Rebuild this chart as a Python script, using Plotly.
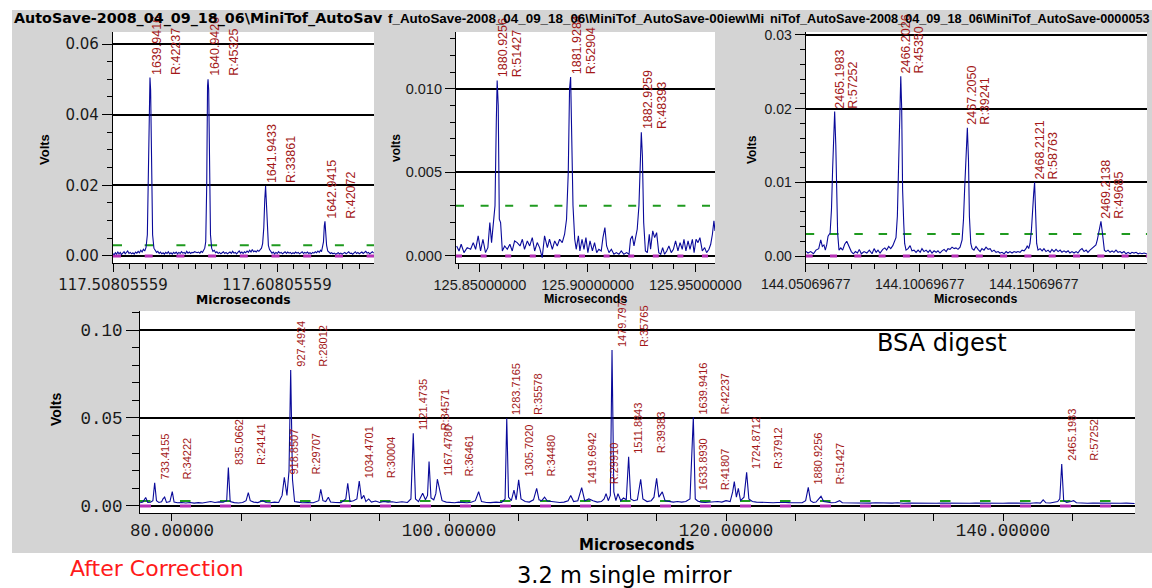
import plotly.graph_objects as go

# ---------------- data ----------------
# Panel 1: zoom around 1640 Da
P1_T = [117.5081, 117.5088, 117.5095, 117.5102, 117.5110, 117.5117, 117.5125, 117.5132, 117.5140, 117.5148,
        117.5155, 117.5163, 117.5170, 117.5178, 117.5186, 117.5194, 117.5202, 117.5210, 117.5218, 117.5226,
        117.5234, 117.5242, 117.5250, 117.5258, 117.5266, 117.5274, 117.5282, 117.5290, 117.5297, 117.5303,
        117.5306, 117.5310, 117.5316, 117.5322, 117.5330, 117.5338, 117.5346, 117.5354, 117.5362, 117.5370,
        117.5378, 117.5386, 117.5394, 117.5402, 117.5410, 117.5418, 117.5426, 117.5434, 117.5442, 117.5450,
        117.5458, 117.5466, 117.5474, 117.5482, 117.5490, 117.5498, 117.5506, 117.5514, 117.5522, 117.5530,
        117.5538, 117.5546, 117.5554, 117.5562, 117.5570, 117.5578, 117.5586, 117.5594, 117.5602, 117.5610,
        117.5618, 117.5626, 117.5634, 117.5640, 117.5646, 117.5652, 117.5657, 117.5660, 117.5664, 117.5669,
        117.5675, 117.5682, 117.5690, 117.5698, 117.5706, 117.5714, 117.5722, 117.5730, 117.5738, 117.5746,
        117.5754, 117.5762, 117.5770, 117.5778, 117.5786, 117.5794, 117.5802, 117.5810, 117.5818, 117.5826,
        117.5834, 117.5842, 117.5850, 117.5858, 117.5866, 117.5874, 117.5882, 117.5890, 117.5898, 117.5906,
        117.5914, 117.5922, 117.5930, 117.5938, 117.5946, 117.5954, 117.5962, 117.5970, 117.5978, 117.5986,
        117.5993, 117.6000, 117.6006, 117.6011, 117.6016, 117.6022, 117.6028, 117.6035, 117.6042, 117.6050,
        117.6058, 117.6066, 117.6074, 117.6082, 117.6090, 117.6098, 117.6106, 117.6114, 117.6122, 117.6130,
        117.6138, 117.6146, 117.6154, 117.6162, 117.6170, 117.6178, 117.6186, 117.6194, 117.6202, 117.6210,
        117.6218, 117.6226, 117.6234, 117.6242, 117.6250, 117.6258, 117.6266, 117.6274, 117.6282, 117.6290,
        117.6298, 117.6306, 117.6314, 117.6322, 117.6330, 117.6338, 117.6346, 117.6352, 117.6358, 117.6364,
        117.6369, 117.6373, 117.6377, 117.6383, 117.6390, 117.6398, 117.6406, 117.6414, 117.6422, 117.6430,
        117.6438, 117.6446, 117.6454, 117.6462, 117.6470, 117.6478, 117.6486, 117.6494, 117.6502, 117.6510,
        117.6518, 117.6526, 117.6534, 117.6542, 117.6550, 117.6558, 117.6566, 117.6574, 117.6582, 117.6590,
        117.6598, 117.6606, 117.6614, 117.6622, 117.6630, 117.6638, 117.6646, 117.6654, 117.6662, 117.6670]
P1_V = [0.0006, 0.0004, 0.0009, 0.0005, 0.0011, 0.0006, 0.0010, 0.0004, 0.0008, 0.0012,
        0.0006, 0.0009, 0.0014, 0.0007, 0.0010, 0.0006, 0.0009, 0.0005, 0.0011, 0.0008,
        0.0013, 0.0009, 0.0016, 0.0011, 0.0019, 0.0014, 0.0024, 0.0060, 0.0250, 0.0480,
        0.0505, 0.0470, 0.0220, 0.0060, 0.0022, 0.0014, 0.0010, 0.0013, 0.0007, 0.0011,
        0.0006, 0.0009, 0.0005, 0.0010, 0.0007, 0.0012, 0.0006, 0.0009, 0.0005, 0.0010,
        0.0007, 0.0011, 0.0006, 0.0010, 0.0007, 0.0012, 0.0008, 0.0010, 0.0006, 0.0013,
        0.0008, 0.0011, 0.0007, 0.0010, 0.0009, 0.0012, 0.0010, 0.0009, 0.0011, 0.0008,
        0.0013, 0.0010, 0.0017, 0.0022, 0.0040, 0.0200, 0.0480, 0.0500, 0.0470, 0.0250,
        0.0060, 0.0022, 0.0013, 0.0016, 0.0009, 0.0012, 0.0007, 0.0010, 0.0006, 0.0009,
        0.0012, 0.0007, 0.0010, 0.0006, 0.0008, 0.0011, 0.0007, 0.0013, 0.0008, 0.0010,
        0.0006, 0.0009, 0.0014, 0.0008, 0.0011, 0.0007, 0.0012, 0.0009, 0.0014, 0.0010,
        0.0016, 0.0011, 0.0018, 0.0012, 0.0014, 0.0011, 0.0016, 0.0013, 0.0018, 0.0022,
        0.0035, 0.0080, 0.0160, 0.0198, 0.0150, 0.0070, 0.0030, 0.0018, 0.0012, 0.0008,
        0.0011, 0.0006, 0.0010, 0.0007, 0.0012, 0.0008, 0.0010, 0.0006, 0.0009, 0.0012,
        0.0007, 0.0011, 0.0008, 0.0010, 0.0006, 0.0009, 0.0007, 0.0011, 0.0008, 0.0010,
        0.0006, 0.0009, 0.0012, 0.0007, 0.0010, 0.0008, 0.0011, 0.0007, 0.0009, 0.0006,
        0.0010, 0.0008, 0.0012, 0.0009, 0.0014, 0.0010, 0.0016, 0.0012, 0.0022, 0.0040,
        0.0085, 0.0098, 0.0070, 0.0030, 0.0014, 0.0010, 0.0007, 0.0009, 0.0006, 0.0008,
        0.0005, 0.0007, 0.0009, 0.0006, 0.0008, 0.0005, 0.0007, 0.0010, 0.0006, 0.0009,
        0.0012, 0.0007, 0.0008, 0.0005, 0.0009, 0.0012, 0.0007, 0.0010, 0.0006, 0.0008,
        0.0011, 0.0007, 0.0009, 0.0013, 0.0008, 0.0010, 0.0006, 0.0009, 0.0012, 0.0008]
P1_MASS = ["1639.9416", "1640.9420", "1641.9433", "1642.9415"]
P1_RES = ["R:42237", "R:45325", "R:33861", "R:42072"]
P1_PEAKS = [117.5306, 117.5660, 117.6011, 117.6373]

# Panel 2: zoom around 1881 Da
P2_T = [125.8392, 125.8403, 125.8413, 125.8426, 125.8441, 125.8457, 125.8469, 125.8480, 125.8492, 125.8503,
        125.8514, 125.8526, 125.8537, 125.8546, 125.8554, 125.8562, 125.8570, 125.8576, 125.8580, 125.8585,
        125.8590, 125.8596, 125.8604, 125.8615, 125.8627, 125.8639, 125.8650, 125.8661, 125.8673, 125.8686,
        125.8697, 125.8707, 125.8720, 125.8731, 125.8743, 125.8754, 125.8766, 125.8777, 125.8789, 125.8800,
        125.8813, 125.8823, 125.8836, 125.8847, 125.8859, 125.8870, 125.8882, 125.8893, 125.8902, 125.8910,
        125.8916, 125.8921, 125.8926, 125.8932, 125.8940, 125.8947, 125.8957, 125.8964, 125.8974, 125.8983,
        125.8992, 125.9001, 125.9011, 125.9022, 125.9032, 125.9042, 125.9052, 125.9063, 125.9071, 125.9080,
        125.9088, 125.9099, 125.9110, 125.9122, 125.9133, 125.9145, 125.9156, 125.9168, 125.9181, 125.9192,
        125.9199, 125.9207, 125.9215, 125.9223, 125.9230, 125.9238, 125.9244, 125.9249, 125.9254, 125.9260,
        125.9268, 125.9277, 125.9286, 125.9292, 125.9302, 125.9311, 125.9320, 125.9330, 125.9339, 125.9348,
        125.9357, 125.9367, 125.9377, 125.9388, 125.9398, 125.9408, 125.9419, 125.9429, 125.9439, 125.9447,
        125.9456, 125.9466, 125.9475, 125.9486, 125.9494, 125.9503, 125.9512, 125.9521, 125.9532, 125.9543,
        125.9552, 125.9563, 125.9571, 125.9579, 125.9586, 125.9591]
P2_V = [0.0006, 0.0003, 0.0007, 0.0002, 0.0005, 0.0004, 0.0008, 0.0004, 0.0012, 0.0003,
        0.0010, 0.0002, 0.0005, 0.0020, 0.0008, 0.0019, 0.0030, 0.0080, 0.0105, 0.0090,
        0.0022, 0.0020, 0.0003, 0.0006, 0.0004, 0.0007, 0.0003, 0.0009, 0.0008, 0.0006,
        0.0010, 0.0004, 0.0009, 0.0006, 0.0011, 0.0003, 0.0008, 0.0005, -0.0001, 0.0012,
        0.0005, 0.0010, 0.0004, 0.0009, 0.0006, 0.0010, 0.0008, 0.0013, 0.0022, 0.0050,
        0.0100, 0.0107, 0.0080, 0.0030, 0.0010, 0.0004, 0.0012, 0.0003, 0.0010, 0.0004,
        0.0011, 0.0002, 0.0009, 0.0003, 0.0008, 0.0002, 0.0004, 0.0003, 0.0011, 0.0017,
        0.0006, 0.0002, 0.0004, 0.0001, 0.0002, 0.0001, 0.0003, 0.0001, 0.0002, 0.0001,
        0.0010, 0.0012, 0.0006, 0.0012, 0.0016, 0.0030, 0.0060, 0.0074, 0.0060, 0.0020,
        0.0003, 0.0002, 0.0013, 0.0004, 0.0015, 0.0011, 0.0014, 0.0002, 0.0001, 0.0005,
        0.0001, 0.0003, 0.0006, 0.0002, 0.0004, 0.0009, 0.0003, 0.0008, 0.0004, 0.0010,
        0.0003, 0.0009, 0.0004, 0.0010, 0.0002, 0.0010, 0.0008, 0.0011, 0.0003, 0.0005,
        0.0002, 0.0004, 0.0007, 0.0013, 0.0021, 0.0015]
P2_MASS = ["1880.9256", "1881.9284", "1882.9259"]
P2_RES = ["R:51427", "R:52904", "R:48393"]
P2_PEAKS = [125.8580, 125.8921, 125.9249]

# Panel 3: zoom around 2466 Da
P3_T = [144.0505, 144.0517, 144.0529, 144.0541, 144.0552, 144.0564, 144.0573, 144.0580, 144.0587, 144.0593,
        144.0599, 144.0605, 144.0614, 144.0620, 144.0625, 144.0630, 144.0634, 144.0639, 144.0643, 144.0647,
        144.0653, 144.0661, 144.0669, 144.0678, 144.0687, 144.0693, 144.0699, 144.0707, 144.0716, 144.0725,
        144.0734, 144.0742, 144.0751, 144.0763, 144.0775, 144.0786, 144.0798, 144.0807, 144.0816, 144.0824,
        144.0833, 144.0845, 144.0854, 144.0862, 144.0871, 144.0880, 144.0889, 144.0897, 144.0903, 144.0909,
        144.0913, 144.0919, 144.0924, 144.0928, 144.0932, 144.0937, 144.0941, 144.0947, 144.0956, 144.0965,
        144.0973, 144.0982, 144.0991, 144.1000, 144.1009, 144.1017, 144.1026, 144.1035, 144.1044, 144.1052,
        144.1061, 144.1070, 144.1079, 144.1087, 144.1096, 144.1105, 144.1114, 144.1123, 144.1131, 144.1140,
        144.1149, 144.1158, 144.1166, 144.1175, 144.1184, 144.1193, 144.1199, 144.1204, 144.1212, 144.1216,
        144.1221, 144.1225, 144.1231, 144.1237, 144.1245, 144.1254, 144.1263, 144.1272, 144.1280, 144.1289,
        144.1298, 144.1307, 144.1316, 144.1324, 144.1333, 144.1342, 144.1351, 144.1359, 144.1368, 144.1377,
        144.1386, 144.1394, 144.1403, 144.1412, 144.1421, 144.1430, 144.1438, 144.1447, 144.1456, 144.1465,
        144.1473, 144.1479, 144.1485, 144.1491, 144.1497, 144.1503, 144.1507, 144.1511, 144.1516, 144.1520,
        144.1526, 144.1535, 144.1544, 144.1552, 144.1561, 144.1570, 144.1579, 144.1587, 144.1596, 144.1605,
        144.1614, 144.1623, 144.1631, 144.1640, 144.1649, 144.1658, 144.1666, 144.1675, 144.1684, 144.1693,
        144.1701, 144.1710, 144.1719, 144.1728, 144.1737, 144.1745, 144.1754, 144.1763, 144.1772, 144.1780,
        144.1786, 144.1792, 144.1798, 144.1802, 144.1807, 144.1811, 144.1817, 144.1824, 144.1833, 144.1842,
        144.1851, 144.1859, 144.1868, 144.1877, 144.1886, 144.1894, 144.1903, 144.1912, 144.1921, 144.1930,
        144.1938, 144.1947, 144.1956, 144.1965, 144.1973, 144.1982, 144.1991, 144.2003]
P3_V = [0.0007, 0.0004, 0.0006, 0.0003, 0.0008, 0.0010, 0.0022, 0.0013, 0.0015, 0.0008,
        0.0015, 0.0027, 0.0031, 0.0063, 0.0117, 0.0150, 0.0196, 0.0150, 0.0060, 0.0031,
        0.0008, 0.0011, 0.0008, 0.0016, 0.0020, 0.0015, 0.0010, 0.0006, 0.0003, 0.0006,
        0.0004, 0.0009, 0.0003, 0.0006, 0.0004, 0.0008, 0.0003, 0.0010, 0.0005, 0.0008,
        0.0004, 0.0009, 0.0011, 0.0008, 0.0013, 0.0010, 0.0014, 0.0022, 0.0025, 0.0054,
        0.0099, 0.0190, 0.0244, 0.0200, 0.0090, 0.0044, 0.0017, 0.0008, 0.0010, 0.0014,
        0.0007, 0.0008, 0.0005, 0.0008, 0.0005, 0.0010, 0.0006, 0.0008, 0.0005, 0.0008,
        0.0004, 0.0007, 0.0005, 0.0007, 0.0004, 0.0007, 0.0009, 0.0006, 0.0010, 0.0009,
        0.0012, 0.0010, 0.0011, 0.0009, 0.0012, 0.0022, 0.0049, 0.0090, 0.0140, 0.0174,
        0.0130, 0.0054, 0.0017, 0.0010, 0.0008, 0.0013, 0.0009, 0.0006, 0.0010, 0.0008,
        0.0012, 0.0009, 0.0010, 0.0006, 0.0008, 0.0005, 0.0006, 0.0004, 0.0005, 0.0003,
        0.0006, 0.0004, 0.0006, 0.0004, 0.0006, 0.0005, 0.0006, 0.0005, 0.0008, 0.0007,
        0.0010, 0.0014, 0.0010, 0.0017, 0.0035, 0.0076, 0.0085, 0.0100, 0.0054, 0.0017,
        0.0008, 0.0010, 0.0007, 0.0010, 0.0006, 0.0008, 0.0005, 0.0009, 0.0006, 0.0009,
        0.0006, 0.0008, 0.0005, 0.0007, 0.0005, 0.0007, 0.0004, 0.0006, 0.0004, 0.0006,
        0.0004, 0.0008, 0.0010, 0.0006, 0.0008, 0.0005, 0.0008, 0.0010, 0.0013, 0.0015,
        0.0022, 0.0033, 0.0045, 0.0047, 0.0035, 0.0022, 0.0008, 0.0006, 0.0008, 0.0005,
        0.0007, 0.0005, 0.0008, 0.0005, 0.0006, 0.0004, 0.0006, 0.0003, 0.0005, 0.0003,
        0.0005, 0.0004, 0.0005, 0.0003, 0.0004, 0.0003, 0.0004, 0.0003]
P3_MASS = ["2465.1983", "2466.2026", "2467.2050", "2468.2121", "2469.2138"]
P3_RES = ["R:57252", "R:45350", "R:39241", "R:58763", "R:49685"]
P3_PEAKS = [144.0634, 144.0924, 144.1216, 144.1511, 144.1802]

# Bottom panel: full BSA digest spectrum
B_T = [77.70, 77.90, 78.10, 78.25, 78.45, 78.62, 78.75, 78.88, 79.05, 79.25,
       79.35, 79.47, 79.60, 79.85, 80.02, 80.15, 80.40, 80.70, 81.00, 81.30,
       81.60, 81.90, 82.20, 82.50, 82.80, 83.10, 83.40, 83.70, 83.95, 84.07,
       84.20, 84.50, 84.80, 85.10, 85.35, 85.51, 85.65, 85.90, 86.20, 86.55,
       86.80, 87.10, 87.40, 87.70, 87.95, 88.11, 88.30, 88.45, 88.57, 88.70,
       88.85, 89.10, 89.40, 89.80, 90.20, 90.60, 90.74, 90.90, 91.10, 91.29,
       91.45, 91.80, 92.20, 92.55, 92.69, 92.85, 93.10, 93.35, 93.52, 93.68,
       93.85, 94.00, 94.20, 94.40, 94.70, 95.00, 95.30, 95.60, 95.90, 96.20,
       96.60, 97.00, 97.25, 97.42, 97.58, 97.80, 98.10, 98.30, 98.45, 98.56,
       98.70, 98.90, 99.05, 99.16, 99.35, 99.50, 99.80, 100.10, 100.40, 100.70,
       101.00, 101.30, 101.60, 101.90, 102.14, 102.35, 102.70, 103.00, 103.40, 103.80,
       104.05, 104.17, 104.30, 104.50, 104.69, 104.85, 105.03, 105.20, 105.50, 105.80,
       106.10, 106.33, 106.50, 106.70, 106.90, 107.10, 107.40, 107.70, 108.00, 108.30,
       108.60, 108.79, 109.00, 109.30, 109.58, 109.80, 110.10, 110.40, 110.70, 111.00,
       111.20, 111.34, 111.50, 111.65, 111.77, 111.90, 112.05, 112.20, 112.40, 112.60,
       112.80, 112.97, 113.12, 113.35, 113.60, 113.84, 114.00, 114.30, 114.60, 114.80,
       114.99, 115.15, 115.40, 115.60, 115.90, 116.20, 116.50, 116.80, 117.10, 117.40,
       117.64, 117.78, 117.95, 118.20, 118.50, 118.80, 119.10, 119.40, 119.70, 120.00,
       120.30, 120.48, 120.60, 120.75, 120.89, 121.05, 121.30, 121.49, 121.65, 121.90,
       122.20, 122.50, 122.80, 123.10, 123.40, 123.70, 124.00, 124.30, 124.60, 124.90,
       125.20, 125.50, 125.75, 125.94, 126.10, 126.30, 126.50, 126.86, 127.05, 127.30,
       127.60, 127.90, 128.20, 128.40, 128.80, 129.20, 129.60, 130.00, 130.40, 130.80,
       131.20, 131.60, 132.00, 132.40, 132.80, 133.20, 133.60, 134.00, 134.40, 134.80,
       135.20, 135.60, 136.00, 136.40, 136.80, 137.20, 137.60, 138.00, 138.40, 138.80,
       139.20, 139.60, 140.00, 140.40, 140.80, 141.20, 141.60, 142.00, 142.40, 142.70,
       142.90, 143.10, 143.40, 143.70, 143.95, 144.10, 144.24, 144.38, 144.60, 144.90,
       145.10, 145.30, 145.70, 146.10, 146.50, 146.90, 147.30, 147.70, 148.10, 148.50,
       148.90, 149.30, 149.50]
B_V = [0.0018, 0.0022, 0.0048, 0.0020, 0.0021, 0.0030, 0.0132, 0.0030, 0.0020, 0.0024,
       0.0040, 0.0050, 0.0020, 0.0025, 0.0081, 0.0022, 0.0018, 0.0020, 0.0017, 0.0020,
       0.0016, 0.0019, 0.0017, 0.0021, 0.0025, 0.0020, 0.0023, 0.0021, 0.0030, 0.0218,
       0.0025, 0.0019, 0.0017, 0.0020, 0.0030, 0.0076, 0.0030, 0.0022, 0.0019, 0.0030,
       0.0020, 0.0018, 0.0022, 0.0020, 0.0060, 0.0163, 0.0060, 0.0200, 0.0773, 0.0150,
       0.0025, 0.0022, 0.0018, 0.0020, 0.0018, 0.0030, 0.0095, 0.0030, 0.0025, 0.0050,
       0.0022, 0.0020, 0.0019, 0.0040, 0.0129, 0.0025, 0.0030, 0.0040, 0.0142, 0.0040,
       0.0060, 0.0025, 0.0040, 0.0022, 0.0028, 0.0020, 0.0025, 0.0022, 0.0024, 0.0020,
       0.0024, 0.0020, 0.0040, 0.0413, 0.0040, 0.0025, 0.0072, 0.0035, 0.0060, 0.0252,
       0.0045, 0.0035, 0.0070, 0.0152, 0.0090, 0.0030, 0.0022, 0.0020, 0.0018, 0.0022,
       0.0020, 0.0018, 0.0021, 0.0030, 0.0081, 0.0025, 0.0020, 0.0019, 0.0022, 0.0020,
       0.0040, 0.0498, 0.0050, 0.0030, 0.0090, 0.0035, 0.0148, 0.0040, 0.0025, 0.0022,
       0.0035, 0.0100, 0.0035, 0.0030, 0.0050, 0.0028, 0.0025, 0.0022, 0.0020, 0.0022,
       0.0030, 0.0060, 0.0025, 0.0030, 0.0104, 0.0030, 0.0040, 0.0030, 0.0022, 0.0025,
       0.0040, 0.0070, 0.0030, 0.0060, 0.0886, 0.0080, 0.0030, 0.0070, 0.0030, 0.0045,
       0.0035, 0.0280, 0.0040, 0.0030, 0.0035, 0.0152, 0.0040, 0.0025, 0.0030, 0.0050,
       0.0157, 0.0050, 0.0080, 0.0030, 0.0025, 0.0022, 0.0025, 0.0022, 0.0025, 0.0040,
       0.0504, 0.0040, 0.0028, 0.0022, 0.0020, 0.0022, 0.0020, 0.0025, 0.0022, 0.0030,
       0.0025, 0.0080, 0.0138, 0.0050, 0.0100, 0.0030, 0.0050, 0.0191, 0.0040, 0.0025,
       0.0022, 0.0020, 0.0022, 0.0020, 0.0018, 0.0020, 0.0018, 0.0020, 0.0019, 0.0018,
       0.0020, 0.0018, 0.0030, 0.0106, 0.0030, 0.0020, 0.0022, 0.0055, 0.0025, 0.0020,
       0.0018, 0.0020, 0.0030, 0.0018, 0.0017, 0.0019, 0.0016, 0.0018, 0.0016, 0.0018,
       0.0016, 0.0017, 0.0016, 0.0018, 0.0015, 0.0017, 0.0016, 0.0018, 0.0016, 0.0017,
       0.0015, 0.0017, 0.0016, 0.0018, 0.0016, 0.0017, 0.0015, 0.0017, 0.0016, 0.0015,
       0.0017, 0.0016, 0.0015, 0.0017, 0.0016, 0.0015, 0.0016, 0.0015, 0.0018, 0.0016,
       0.0035, 0.0018, 0.0017, 0.0020, 0.0025, 0.0040, 0.0239, 0.0030, 0.0020, 0.0025,
       0.0030, 0.0018, 0.0016, 0.0015, 0.0017, 0.0016, 0.0015, 0.0017, 0.0016, 0.0015,
       0.0016, 0.0015, 0.0014]
B_MASS = ["733.4155", "835.0662", "918.8507", "927.4924", "1034.4701", "1121.4735", "1167.4780",
          "1283.7165", "1305.7020", "1419.6942", "1479.7975", "1511.8843", "1639.9416",
          "1724.8712", "1880.9256", "2465.1983"]
B_RES = ["R:34222", "R:24141", "R:29707", "R:28012", "R:30004", "R:34571", "R:36461",
         "R:35578", "R:34480", "R:29910", "R:35765", "R:39383", "R:42237",
         "R:37912", "R:51427", "R:57252"]
B_PEAKS = [78.75, 84.07, 88.11, 88.57, 93.52, 97.42, 99.16, 104.17, 105.03, 109.58, 111.77,
           112.97, 117.64, 121.49, 125.94, 144.24]
# a second, lower label that the software drew beside the 1639.94 peak
B_EXTRA_MASS = ["1633.8930"]
B_EXTRA_RES = ["R:41807"]
B_EXTRA_T = [117.64]
B_EXTRA_V = [0.0074]

THRESH_TOP = 0.003
THRESH_BOTTOM = 0.0028

assert len(P1_T) == len(P1_V) and len(P2_T) == len(P2_V)
assert len(P3_T) == len(P3_V) and len(B_T) == len(B_V)

# ---------------- layout helpers ----------------
W, H = 1152, 588
def fx(p): return p / W
def fy(p): return 1 - p / H

BLUE = "#0a0a9a"
GREEN = "#1f9a1f"
MAGENTA = "#b52fb5"
LRED = "#a31818"
SANS = "Liberation Sans, Arial, sans-serif"
WIDE = "DejaVu Sans, sans-serif"
MONO = "Liberation Mono, monospace"

fig = go.Figure()

panels = [
    dict(ax="", T=P1_T, V=P1_V, M=P1_MASS, R=P1_RES, P=P1_PEAKS,
         xr=[117.50805559, 117.6672], yr=[-0.0020, 0.0634], xp=(113, 374), yp=(32, 263),
         thr=THRESH_TOP, dashg="9px,22.7px", dashm="8px,23.7px", lfont=12.5, off=(7, 26),
         tickvals=[117.50805559, 117.60805559], ticktext=["117.50805559", "117.60805559"],
         xminor=0.01, yticks=[0, 0.02, 0.04, 0.06], ytext=["0.00", "0.02", "0.04", "0.06"],
         yminor=0.005, tfont=15, fam=WIDE, xstand=0),
    dict(ax="2", T=P2_T, V=P2_V, M=P2_MASS, R=P2_RES, P=P2_PEAKS,
         xr=[125.8389, 125.9591], yr=[-0.00042, 0.0134], xp=(456, 715), yp=(32, 263),
         thr=THRESH_TOP, dashg="8px,16.6px", dashm="6px,18.6px", lfont=12.5, off=(6, 20),
         tickvals=[125.85, 125.90, 125.95], ticktext=["125.85000000", "125.90000000", "125.95000000"],
         xminor=0.01, yticks=[0, 0.005, 0.010], ytext=["0.000", "0.005", "0.010"],
         yminor=0.001, tfont=14.5, fam=SANS, xstand=0),
    dict(ax="3", T=P3_T, V=P3_V, M=P3_MASS, R=P3_RES, P=P3_PEAKS,
         xr=[144.05069677, 144.2004], yr=[-0.00095, 0.0304], xp=(805.7, 1147), yp=(32, 263),
         thr=THRESH_TOP, dashg="8.5px,15.8px", dashm="7px,17.3px", lfont=12.5, off=(5, 18),
         tickvals=[144.05069677, 144.10069677, 144.15069677],
         ticktext=["144.05069677", "144.10069677", "144.15069677"],
         xminor=0.01, yticks=[0, 0.01, 0.02, 0.03], ytext=["0.00", "0.01", "0.02", "0.03"],
         yminor=0.002, tfont=14, fam=SANS, xstand=0),
    dict(ax="4", T=B_T, V=B_V, M=B_MASS, R=B_RES, P=B_PEAKS,
         xr=[77.69, 149.53], yr=[-0.0040, 0.1108], xp=(140, 1135), yp=(311, 513),
         thr=THRESH_BOTTOM, dashg="10.5px,29.5px", dashm="11px,29px", lfont=11, off=(10, 32),
         tickvals=[80, 100, 120, 140], ticktext=["80.00000", "100.00000", "120.00000", "140.00000"],
         xminor=5, yticks=[0, 0.05, 0.10], ytext=["0.00", "0.05", "0.10"],
         yminor=0.01, tfont=17.5, fam=MONO, xstand=-6),
]

shapes = [dict(type="rect", xref="paper", yref="paper", x0=fx(12), x1=1, y0=fy(553), y1=fy(10),
               fillcolor="#d4d4d4", line=dict(width=0), layer="below")]
annotations = []

def peak_label(xa, ya, t, v, mass, res, offs, size):
    for text, off in ((mass, offs[0]), (res, offs[1])):
        annotations.append(dict(x=t, y=v, xref=xa, yref=ya, text=text, textangle=-90,
                                showarrow=False, xanchor="center", yanchor="bottom",
                                xshift=off, yshift=1,
                                font=dict(family=SANS, size=size, color=LRED)))

for p in panels:
    a = p["ax"]
    xa, ya = "x" + a, "y" + a
    xkey, ykey = "xaxis" + a, "yaxis" + a
    shapes.append(dict(type="rect", xref="paper", yref="paper",
                       x0=fx(p["xp"][0]), x1=fx(p["xp"][1]), y0=fy(p["yp"][1]), y1=fy(p["yp"][0]),
                       fillcolor="white", line=dict(width=0), layer="below"))
    # thresholds
    fig.add_trace(go.Scatter(x=p["xr"], y=[0, 0], xaxis=xa, yaxis=ya, mode="lines",
                             line=dict(color=MAGENTA, width=3, dash=p["dashm"]), hoverinfo="skip"))
    fig.add_trace(go.Scatter(x=p["xr"], y=[p["thr"], p["thr"]], xaxis=xa, yaxis=ya, mode="lines",
                             line=dict(color=GREEN, width=2, dash=p["dashg"]), hoverinfo="skip"))
    # spectrum
    fig.add_trace(go.Scatter(x=p["T"], y=p["V"], xaxis=xa, yaxis=ya, mode="lines",
                             line=dict(color=BLUE, width=1.1), hoverinfo="skip"))
    # labels at peak tops
    span = (p["xr"][1] - p["xr"][0]) * 0.004
    for m, r, pk in zip(p["M"], p["R"], p["P"]):
        top = max(v for t, v in zip(p["T"], p["V"]) if abs(t - pk) <= span)
        peak_label(xa, ya, pk, top, m, r, p["off"], p["lfont"])
    tf = dict(family=p["fam"], size=p["tfont"], color="#1a1a1a")
    big = a == "4"
    fig.update_layout(**{
        xkey: dict(domain=[fx(p["xp"][0]), fx(p["xp"][1])], range=p["xr"], anchor=ya,
                   tickmode="array", tickvals=p["tickvals"], ticktext=p["ticktext"],
                   ticks="outside", ticklen=7 if big else 8, tickcolor="black", tickwidth=1,
                   ticklabelstandoff=p["xstand"],
                   showline=True, linecolor="black", linewidth=1.2, showgrid=False, zeroline=False,
                   tickfont=tf, fixedrange=True, automargin=False,
                   minor=dict(tickmode="linear", tick0=p["tickvals"][0], dtick=p["xminor"],
                              ticks="outside", ticklen=7 if big else 5, tickcolor="black", showgrid=False)),
        ykey: dict(domain=[fy(p["yp"][1]), fy(p["yp"][0])], range=p["yr"], anchor=xa,
                   tickmode="array", tickvals=p["yticks"], ticktext=p["ytext"],
                   ticks="outside", ticklen=13 if big else 10, tickcolor="black", tickwidth=1,
                   showline=True, linecolor="black", linewidth=1.2,
                   showgrid=True, gridcolor="black", gridwidth=1.5, zeroline=False,
                   tickfont=tf, fixedrange=True, automargin=False,
                   minor=dict(tickmode="linear", tick0=0, dtick=p["yminor"],
                              ticks="outside", ticklen=7 if big else 5, tickcolor="black", showgrid=False)),
    })

for m, r, t, v in zip(B_EXTRA_MASS, B_EXTRA_RES, B_EXTRA_T, B_EXTRA_V):
    peak_label("x4", "y4", t, v, m, r, (10, 32), 11)

def txt(x, y, text, size, family=SANS, color="black", angle=0, xanchor="center", bold=False):
    annotations.append(dict(x=fx(x), y=fy(y), xref="paper", yref="paper",
                            text=("<b>%s</b>" % text) if bold else text, showarrow=False,
                            textangle=angle, xanchor=xanchor, yanchor="middle",
                            font=dict(family=family, size=size, color=color)))

# window titles
txt(12, 19, "AutoSave-2008_04_09_18_06\\MiniTof_AutoSav", 14.3, WIDE, xanchor="left", bold=True)
txt(386, 19, "f_AutoSave-2008_04_09_18_06\\MiniTof_AutoSave-00iew\\Mi", 13.4, SANS, xanchor="left", bold=True)
txt(768, 19, "niTof_AutoSave-2008_04_09_18_06\\MiniTof_AutoSave-0000053", 12.7, SANS, xanchor="left", bold=True)
# axis titles
txt(243, 300, "Microseconds", 12.3, WIDE, bold=True)
txt(585, 299, "Microseconds", 12.4, bold=True)
txt(975, 299, "Microseconds", 12.4, bold=True)
txt(636, 545, "Microseconds", 15, WIDE, bold=True)
txt(45, 150, "Volts", 13, angle=-90, bold=True)
txt(396, 148, "volts", 12, angle=-90, bold=True)
txt(752, 150, "Volts", 12, angle=-90, bold=True)
txt(56, 410, "Volts", 14, angle=-90, bold=True)
# text
txt(942, 343, "BSA digest", 24, WIDE)
txt(157, 568, "After Correction", 22, WIDE, color="#ff1a1a")
txt(624, 575, "3.2 m single mirror", 22.5, WIDE)

fig.update_layout(width=W, height=H, margin=dict(l=0, r=0, t=0, b=0, autoexpand=False),
                  paper_bgcolor="white", plot_bgcolor="white", showlegend=False,
                  shapes=shapes, annotations=annotations)

fig.write_html("out.html")
